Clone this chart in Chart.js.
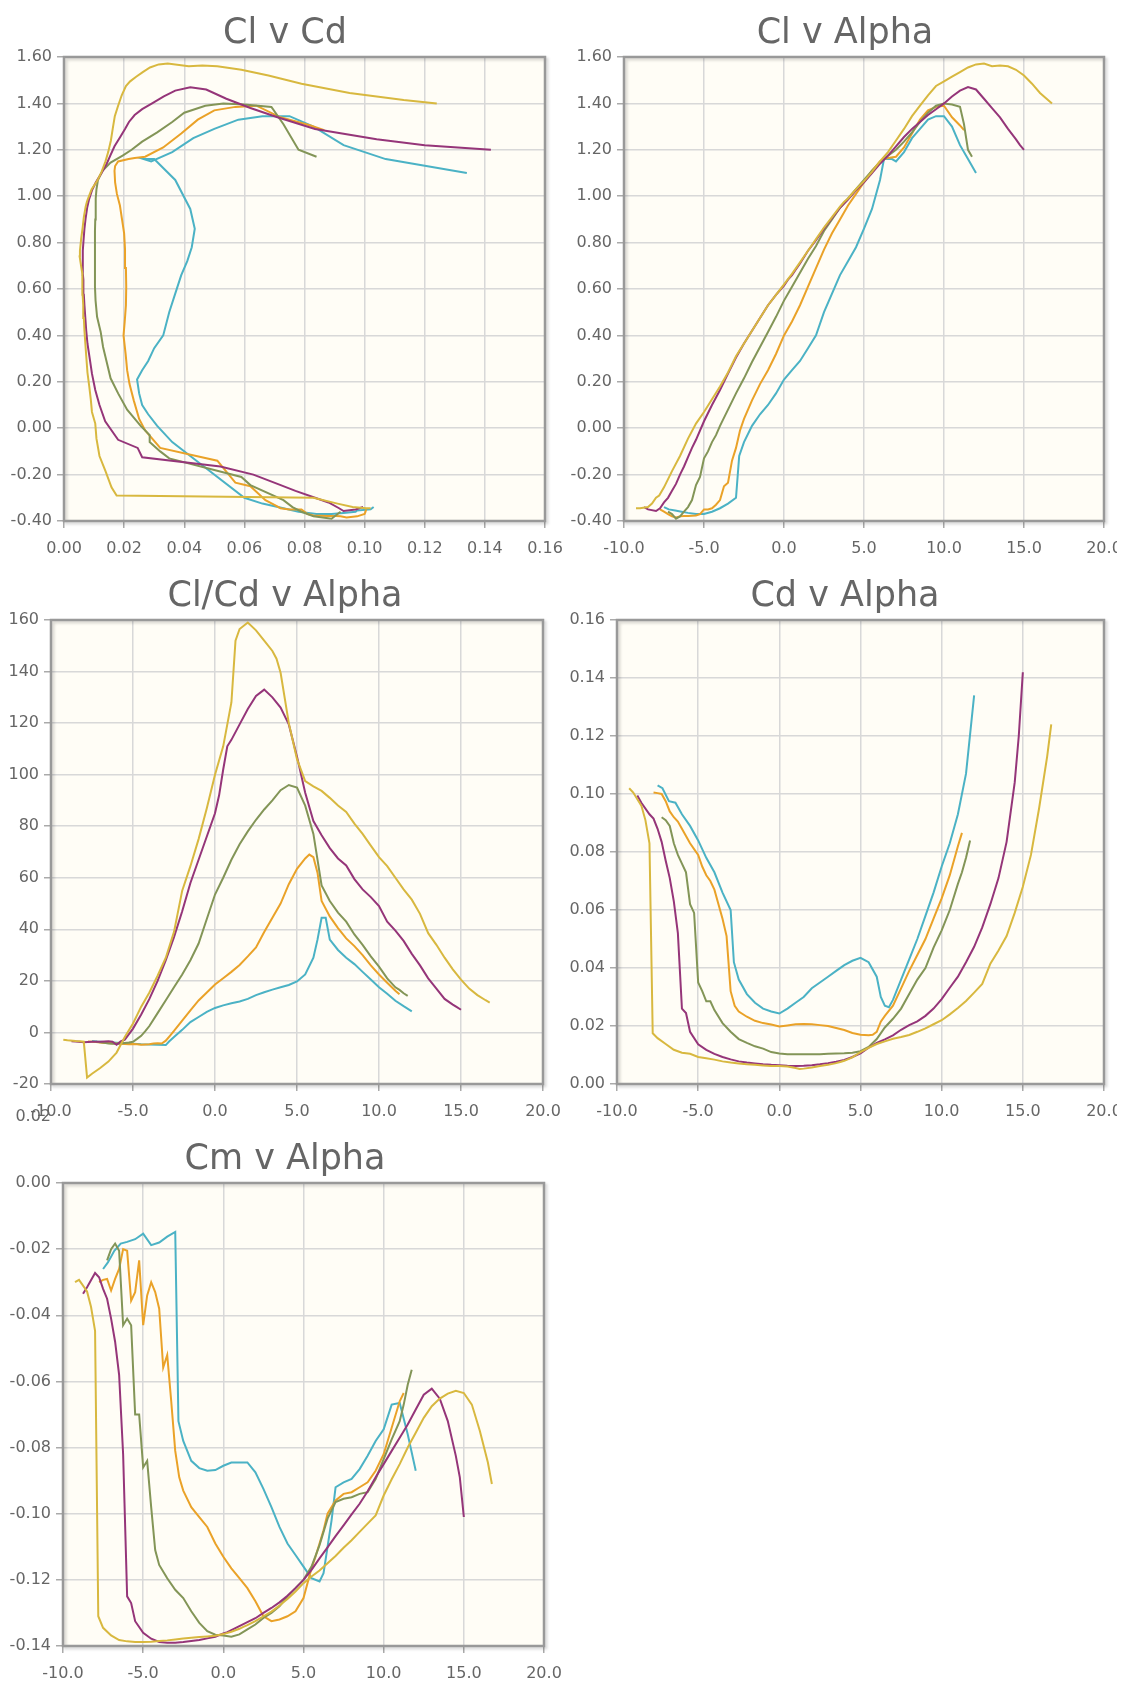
<!DOCTYPE html>
<html><head><meta charset="utf-8">
<script src="https://cdn.jsdelivr.net/npm/chart.js@4.4.1/dist/chart.umd.min.js"></script>
<style>
html,body{margin:0;padding:0;background:#fff;}
body{width:1129px;height:1682px;position:relative;overflow:hidden;font-family:"DejaVu Sans",sans-serif;}
canvas{position:absolute;}
.title{position:absolute;width:500px;text-align:center;font-size:35px;line-height:42px;color:#666;white-space:nowrap;}
#colR{position:absolute;left:560px;top:0;width:557px;height:1130px;overflow:hidden;}
</style></head><body>
<canvas id="c1" width="570" height="565" style="left:0;top:0"></canvas>
<canvas id="c3" width="570" height="565" style="left:0;top:563px"></canvas>
<canvas id="c5" width="570" height="582" style="left:0;top:1100px"></canvas>
<div id="colR">
<canvas id="c2" width="569" height="565" style="left:0;top:0"></canvas>
<canvas id="c4" width="569" height="565" style="left:0;top:563px"></canvas>
</div>
<div class="title" style="left:35px;top:10px">Cl v Cd</div>
<div class="title" style="left:595px;top:10px">Cl v Alpha</div>
<div class="title" style="left:35px;top:573px">Cl/Cd v Alpha</div>
<div class="title" style="left:595px;top:573px">Cd v Alpha</div>
<div class="title" style="left:35px;top:1136px">Cm v Alpha</div>
<script>
// ---------- series ----------
const seriesLabels = ['Re 50,000','Re 100,000','Re 200,000','Re 500,000','Re 1,000,000'];
const seriesColors = ['#4bb2c5','#eaa228','#839557','#953579','#d8b83f'];

// Re 50,000 (cyan)
const alphaRe50 = [-7.5,-7.2,-6.8,-6.4,-6.0,-5.5,-5.0,-4.5,-4.0,-3.5,-3.0,-2.8,-2.5,-2.0,-1.5,-1.0,-0.5,0,0.5,1.0,1.5,2.0,2.5,3.0,3.5,4.0,4.5,5.0,5.5,6.0,6.25,6.5,6.75,7.0,7.5,8.0,8.5,9.0,9.5,10.0,10.5,11.0,11.5,12.0];
const clRe50 = [-0.34,-0.35,-0.355,-0.36,-0.365,-0.37,-0.37,-0.36,-0.345,-0.325,-0.30,-0.12,-0.06,0.01,0.06,0.10,0.15,0.21,0.25,0.29,0.345,0.40,0.50,0.58,0.66,0.72,0.78,0.86,0.945,1.07,1.16,1.16,1.16,1.15,1.19,1.25,1.29,1.33,1.345,1.345,1.30,1.22,1.16,1.10];
const cdRe50 = [0.103,0.102,0.0975,0.097,0.093,0.089,0.084,0.078,0.073,0.066,0.060,0.042,0.036,0.031,0.028,0.026,0.025,0.0243,0.026,0.028,0.030,0.033,0.035,0.037,0.039,0.041,0.0425,0.0435,0.042,0.037,0.030,0.027,0.0265,0.029,0.036,0.043,0.050,0.058,0.066,0.075,0.083,0.093,0.107,0.134];
const clcdRe50 = [-3.3,-3.5,-3.7,-3.8,-4.0,-4.2,-4.4,-4.6,-4.7,-4.8,-4.9,-3.5,-1.8,1.0,4.0,6.0,8.0,9.5,10.5,11.3,12.0,13.0,14.5,15.6,16.6,17.5,18.4,19.8,22.5,29,36,44.5,44.5,36,32,29,26.5,23.5,20.5,17.5,15,12.3,10.2,8.2];
const cmRe50 = [-0.026,-0.024,-0.0205,-0.0183,-0.0178,-0.0170,-0.0153,-0.0188,-0.0180,-0.0162,-0.0148,-0.072,-0.078,-0.084,-0.0862,-0.0870,-0.0868,-0.0855,-0.0845,-0.0845,-0.0845,-0.0875,-0.0925,-0.098,-0.104,-0.109,-0.1125,-0.116,-0.1195,-0.1205,-0.118,-0.110,-0.102,-0.092,-0.0905,-0.0895,-0.0865,-0.0825,-0.078,-0.0745,-0.067,-0.0665,-0.076,-0.087];

// Re 100,000 (orange)
const alphaRe100 = [-7.75,-7.5,-7.25,-7.0,-6.75,-6.5,-6.25,-6.0,-5.75,-5.5,-5.25,-5.0,-4.75,-4.5,-4.25,-4.0,-3.75,-3.5,-3.25,-3.0,-2.75,-2.5,-2.0,-1.5,-1.0,-0.5,0,0.5,1,1.5,2,2.5,3,3.5,4,4.5,5,5.5,5.75,6,6.25,6.5,7,7.5,8,8.5,9,9.5,10,10.5,11,11.25];
const clRe100 = [-0.35,-0.36,-0.37,-0.38,-0.385,-0.38,-0.378,-0.378,-0.377,-0.376,-0.37,-0.35,-0.35,-0.345,-0.33,-0.31,-0.25,-0.235,-0.14,-0.085,-0.01,0.04,0.12,0.19,0.25,0.32,0.40,0.46,0.53,0.61,0.69,0.77,0.84,0.90,0.96,1.01,1.06,1.11,1.13,1.15,1.16,1.165,1.17,1.21,1.27,1.33,1.37,1.385,1.39,1.34,1.305,1.285];
const cdRe100 = [0.1005,0.1003,0.1000,0.0975,0.094,0.092,0.0905,0.088,0.0855,0.083,0.081,0.079,0.075,0.072,0.070,0.067,0.062,0.057,0.051,0.032,0.027,0.025,0.0232,0.0218,0.021,0.0205,0.0198,0.0202,0.0206,0.0207,0.0206,0.0203,0.0200,0.0193,0.0186,0.0176,0.0170,0.0168,0.0170,0.0180,0.0215,0.0235,0.0270,0.0330,0.0390,0.0445,0.050,0.057,0.064,0.072,0.082,0.0866];
const clcdRe100 = [-3.5,-3.6,-3.7,-3.9,-4.1,-4.1,-4.2,-4.3,-4.4,-4.5,-4.6,-4.5,-4.6,-4.8,-4.7,-4.6,-4.3,-4.2,-4.3,-3.2,-1.3,0.6,4.6,8.6,12.4,15.5,18.6,21,23.5,26.2,29.5,33,39,44.5,50,57.5,63.5,67.5,69,68,62,51,45,40.5,36.5,33.5,30,26,22.5,19.3,16.2,14.8];
const cmRe100 = [-0.0300,-0.0293,-0.0290,-0.0325,-0.0290,-0.0260,-0.0200,-0.0205,-0.0356,-0.0330,-0.0234,-0.0430,-0.0340,-0.0300,-0.0330,-0.0380,-0.0558,-0.0520,-0.0660,-0.0810,-0.0890,-0.0930,-0.0980,-0.1010,-0.1040,-0.1090,-0.1130,-0.1165,-0.1195,-0.1225,-0.1265,-0.1310,-0.1325,-0.1320,-0.1310,-0.1295,-0.1255,-0.1165,-0.1130,-0.1090,-0.1050,-0.1000,-0.0960,-0.0940,-0.0935,-0.0920,-0.0905,-0.0870,-0.0820,-0.0740,-0.0660,-0.0635];

// Re 200,000 (olive)
const alphaRe200 = [-7.25,-7.0,-6.75,-6.5,-6.25,-6.0,-5.75,-5.5,-5.25,-5.0,-4.75,-4.5,-4.25,-4.0,-3.5,-3.0,-2.5,-2.0,-1.5,-1.0,-0.5,0,0.5,1,1.5,2,2.5,3,3.5,4,4.5,5,5.5,6,6.5,7,7.5,8,8.5,9,9.5,10,10.5,11,11.25,11.5,11.75];
const clRe200 = [-0.36,-0.37,-0.39,-0.38,-0.36,-0.34,-0.31,-0.245,-0.21,-0.13,-0.10,-0.06,-0.03,0.01,0.08,0.15,0.215,0.285,0.35,0.415,0.48,0.55,0.61,0.67,0.73,0.785,0.85,0.90,0.95,0.99,1.03,1.07,1.11,1.145,1.175,1.20,1.235,1.275,1.32,1.36,1.39,1.40,1.395,1.385,1.31,1.20,1.17];
const cdRe200 = [0.092,0.091,0.089,0.083,0.079,0.076,0.073,0.062,0.059,0.035,0.032,0.0285,0.0285,0.0255,0.021,0.018,0.0155,0.0142,0.013,0.0122,0.011,0.0105,0.0103,0.0103,0.0103,0.0103,0.0103,0.0104,0.0105,0.0106,0.0108,0.0113,0.0128,0.0155,0.0195,0.0225,0.026,0.031,0.036,0.040,0.047,0.053,0.060,0.069,0.073,0.078,0.084];
const clcdRe200 = [-3.6,-3.8,-4.0,-4.3,-4.4,-4.4,-4.3,-4.1,-3.9,-3.6,-2.5,-1.3,0.5,2.5,7.5,12.5,17.5,22.5,28,34.5,44,53.5,60,67,73,78,82.5,86.5,90,94,96,95,88,77,57,51,46.5,43,38,34,29.5,25.5,21,17.5,16.5,15.2,14.2];
const cmRe200 = [-0.0234,-0.0200,-0.0183,-0.0205,-0.0430,-0.0410,-0.0430,-0.0700,-0.0700,-0.0860,-0.0840,-0.0980,-0.1110,-0.1155,-0.1195,-0.1230,-0.1255,-0.1295,-0.1330,-0.1355,-0.1366,-0.1368,-0.1372,-0.1365,-0.1350,-0.1335,-0.1315,-0.1300,-0.1280,-0.1250,-0.1225,-0.1200,-0.1160,-0.1095,-0.1015,-0.0965,-0.0955,-0.0950,-0.0940,-0.0935,-0.0895,-0.0835,-0.0775,-0.0720,-0.0670,-0.0610,-0.0565];

// Re 500,000 (purple)
const alphaRe500 = [-8.75,-8.5,-8.0,-7.75,-7.5,-7.25,-7.0,-6.75,-6.5,-6.25,-6.0,-5.75,-5.5,-5.0,-4.5,-4.0,-3.5,-3.0,-2.5,-2.0,-1.5,-1.0,-0.5,0,0.25,0.5,0.75,1,1.5,2,2.5,3,3.5,4,4.5,5,5.5,6,6.5,7,7.5,8,8.5,9,9.5,10,10.5,11,11.5,12,12.5,13,13.5,14,14.5,14.75,15];
const clRe500 = [-0.34,-0.35,-0.357,-0.345,-0.32,-0.30,-0.27,-0.24,-0.20,-0.165,-0.125,-0.085,-0.05,0.03,0.10,0.165,0.235,0.305,0.365,0.42,0.475,0.53,0.575,0.615,0.64,0.66,0.685,0.71,0.765,0.81,0.86,0.905,0.95,0.985,1.025,1.06,1.10,1.14,1.175,1.215,1.255,1.29,1.32,1.35,1.375,1.40,1.43,1.455,1.47,1.46,1.42,1.38,1.34,1.29,1.245,1.22,1.20];
const cdRe500 = [0.0995,0.097,0.093,0.0915,0.088,0.0835,0.077,0.071,0.063,0.052,0.026,0.0245,0.018,0.0137,0.0118,0.0104,0.0093,0.0085,0.0078,0.0074,0.0071,0.0068,0.0066,0.0065,0.0064,0.0063,0.00625,0.0062,0.0063,0.0065,0.0068,0.0072,0.0077,0.0083,0.0093,0.0106,0.0125,0.0142,0.0154,0.0168,0.0187,0.0203,0.0216,0.0235,0.026,0.0293,0.0332,0.037,0.042,0.0473,0.054,0.062,0.071,0.0835,0.104,0.12,0.142];
const clcdRe500 = [-3.4,-3.5,-3.8,-3.7,-3.6,-3.6,-3.6,-3.5,-3.4,-3.6,-4.8,-3.5,-2.8,1.5,7,13,20,28,37,47,58,67,76,85,92,102,111,113.5,119.5,125.5,130.5,133,130,126,119.5,107,93,82,76.5,71.5,67.5,64.8,59.5,55.5,52.5,49,43,39.5,35.5,30.5,26,21,17,13,10.8,9.8,8.8];
const cmRe500 = [-0.0335,-0.0315,-0.0272,-0.0285,-0.032,-0.035,-0.041,-0.048,-0.058,-0.082,-0.125,-0.127,-0.1325,-0.136,-0.1378,-0.1388,-0.139,-0.139,-0.1388,-0.1385,-0.1382,-0.1377,-0.1372,-0.1362,-0.1358,-0.1352,-0.1346,-0.134,-0.1328,-0.1316,-0.130,-0.1285,-0.1268,-0.1248,-0.1225,-0.12,-0.117,-0.1135,-0.1102,-0.1068,-0.1035,-0.1002,-0.097,-0.0932,-0.089,-0.085,-0.081,-0.077,-0.073,-0.0685,-0.064,-0.0622,-0.0652,-0.072,-0.0825,-0.089,-0.101];

// Re 1,000,000 (gold)
const alphaRe1000 = [-9.25,-9.0,-8.5,-8.25,-8.0,-7.8,-7.5,-7.0,-6.5,-6.0,-5.5,-5.0,-4.5,-4.0,-3.5,-3.0,-2.5,-2.0,-1.5,-1.0,-0.5,0,0.5,1.0,1.25,1.5,2.0,2.5,3.0,3.5,3.75,4.0,4.5,5.0,5.5,6.0,6.5,7.0,7.5,8.0,8.5,9.0,9.5,10.0,10.5,11.0,11.5,12.0,12.5,13.0,13.5,14.0,14.5,15.0,15.5,16.0,16.5,16.75];
const clRe1000 = [-0.345,-0.345,-0.34,-0.325,-0.30,-0.29,-0.255,-0.185,-0.12,-0.045,0.02,0.07,0.125,0.18,0.24,0.31,0.365,0.42,0.475,0.53,0.575,0.62,0.665,0.715,0.74,0.765,0.815,0.865,0.91,0.955,0.975,0.99,1.03,1.065,1.105,1.15,1.19,1.24,1.29,1.345,1.39,1.435,1.475,1.495,1.515,1.535,1.555,1.568,1.572,1.56,1.563,1.56,1.545,1.52,1.485,1.445,1.415,1.40];
const cdRe1000 = [0.102,0.1005,0.096,0.091,0.083,0.0175,0.0158,0.0138,0.0118,0.0108,0.0104,0.0093,0.0089,0.0084,0.0078,0.0074,0.0071,0.0068,0.0066,0.0064,0.0062,0.0062,0.0060,0.0055,0.0052,0.0053,0.0057,0.0062,0.0066,0.0072,0.0076,0.0080,0.0092,0.0110,0.0125,0.0138,0.0147,0.0156,0.0162,0.0169,0.0180,0.0192,0.0206,0.0220,0.0240,0.0262,0.0286,0.0315,0.0345,0.0415,0.046,0.051,0.059,0.068,0.079,0.095,0.113,0.124];
const clcdRe1000 = [-2.8,-3.0,-3.3,-3.4,-3.6,-17.5,-16,-13.8,-11.3,-7.8,-1.8,3.5,10,15.5,22,29,39,55,64.5,75,87,100,111,128,152,156.5,159,156,152,148,145,139.5,120,106,97.5,95.5,93.7,91,88,85.5,81,77,72.5,68,64.5,60,55.5,51.5,46,38.5,34,29,24.5,20.5,17,14.5,12.5,11.6];
const cmRe1000 = [-0.030,-0.0293,-0.0328,-0.0375,-0.0447,-0.131,-0.1345,-0.1368,-0.1382,-0.1386,-0.1388,-0.1388,-0.1387,-0.1385,-0.1383,-0.138,-0.1377,-0.1375,-0.1373,-0.1371,-0.1369,-0.1364,-0.1357,-0.1348,-0.1342,-0.1337,-0.1325,-0.131,-0.1296,-0.1278,-0.1268,-0.1258,-0.1235,-0.121,-0.119,-0.1172,-0.115,-0.1128,-0.1103,-0.108,-0.1055,-0.103,-0.1005,-0.0945,-0.0896,-0.085,-0.080,-0.0755,-0.071,-0.0675,-0.0652,-0.0637,-0.0628,-0.0635,-0.067,-0.075,-0.0845,-0.091];

// ---------- axes: [min, max, step] ----------
const alphaAxis = [-10, 20, 5];
const clAxis = [-0.4, 1.6, 0.2];
const cdAxisPolar = [0, 0.16, 0.02];
const clcdAxis = [-20, 160, 20];
const cdAxis = [0, 0.16, 0.02];
const cmAxis = [-0.14, 0, 0.02];
const cmExtraTicks = [0.02];

const alphas = [alphaRe50, alphaRe100, alphaRe200, alphaRe500, alphaRe1000];
const cls = [clRe50, clRe100, clRe200, clRe500, clRe1000];
const cds = [cdRe50, cdRe100, cdRe200, cdRe500, cdRe1000];
const clcds = [clcdRe50, clcdRe100, clcdRe200, clcdRe500, clcdRe1000];
const cms = [cmRe50, cmRe100, cmRe200, cmRe500, cmRe1000];

const TICK_FONT = {family: 'DejaVu Sans', size: 16};
const TICK_COLOR = '#666';

function makeSets(xs, ys) {
  return xs.map((xArr, i) => ({
    label: seriesLabels[i],
    data: xArr.map((x, j) => ({x: x, y: ys[i][j]})),
    borderColor: seriesColors[i],
    backgroundColor: seriesColors[i],
    showLine: true,
    borderWidth: 2,
    pointRadius: 0,
    tension: 0,
    order: 4 - i
  }));
}

const framePlugin = {
  id: 'frame',
  beforeDraw(chart) {
    const {ctx, chartArea: a} = chart;
    ctx.save();
    ctx.fillStyle = '#fffdf6';
    ctx.fillRect(a.left, a.top, a.right - a.left, a.bottom - a.top);
    ctx.restore();
  },
  beforeDatasetsDraw(chart) {
    const {ctx, chartArea: a} = chart;
    ctx.save();
    ctx.shadowColor = 'rgba(0,0,0,0.18)';
    ctx.shadowOffsetX = 2; ctx.shadowOffsetY = 2; ctx.shadowBlur = 3;
    ctx.strokeStyle = '#999999';
    ctx.lineWidth = 2.5;
    ctx.strokeRect(a.left, a.top, a.right - a.left, a.bottom - a.top);
    ctx.restore();
  }
};

const extraTickPlugin = {
  id: 'extraTick',
  afterDraw(chart) {
    const ys = chart.scales.y, ctx = chart.ctx;
    ctx.save();
    ctx.font = TICK_FONT.size + 'px "' + TICK_FONT.family + '"';
    ctx.fillStyle = TICK_COLOR;
    ctx.textAlign = 'right';
    ctx.textBaseline = 'middle';
    cmExtraTicks.forEach(v => {
      ctx.fillText(v.toFixed(2), chart.chartArea.left - 12, ys.getPixelForValue(v));
    });
    ctx.restore();
  }
};

const fmt = d => v => (Math.abs(v) < 1e-9 ? 0 : v).toFixed(d);

function axis(range, dec, fitFn) {
  return {
    type: 'linear', min: range[0], max: range[1],
    ticks: {stepSize: range[2], callback: fmt(dec), font: TICK_FONT, color: TICK_COLOR, autoSkip: false, maxRotation: 0, padding: 5},
    grid: {color: '#d8d8d8', lineWidth: 1.5, tickLength: 7, tickColor: '#aaaaaa', tickWidth: 1.5, drawTicks: true},
    border: {display: false},
    afterFit: fitFn
  };
}

function makeChart(id, datasets, xr, xd, yr, yd, g, extra) {
  const xs = axis(xr, xd, s => { s.height = g.xh; s.paddingLeft = 0; s.paddingRight = 0; });
  xs.ticks.padding = 11;
  const ys = axis(yr, yd, s => { s.width = g.yw; s.paddingTop = 0; s.paddingBottom = 0; });
  new Chart(document.getElementById(id), {
    type: 'scatter',
    data: {datasets: datasets},
    options: {
      responsive: false, animation: false, devicePixelRatio: 1,
      layout: {padding: {top: g.top, right: g.right, left: 0, bottom: 0}},
      plugins: {legend: {display: false}, tooltip: {enabled: false}, title: {display: false}},
      scales: {x: xs, y: ys}
    },
    plugins: extra ? [framePlugin, extraTickPlugin] : [framePlugin]
  });
}

makeChart('c1', makeSets(cds, cls), cdAxisPolar, 2, clAxis, 2, {top: 57, right: 25, xh: 44, yw: 64});
makeChart('c2', makeSets(alphas, cls), alphaAxis, 1, clAxis, 2, {top: 57, right: 25, xh: 44, yw: 64});
makeChart('c3', makeSets(alphas, clcds), alphaAxis, 1, clcdAxis, 0, {top: 57, right: 27, xh: 44, yw: 51});
makeChart('c4', makeSets(alphas, cds), alphaAxis, 1, cdAxis, 2, {top: 57, right: 25, xh: 44, yw: 57});
makeChart('c5', makeSets(alphas, cms), alphaAxis, 1, cmAxis, 2, {top: 83, right: 26, xh: 36, yw: 63}, true);
</script>
</body></html>
